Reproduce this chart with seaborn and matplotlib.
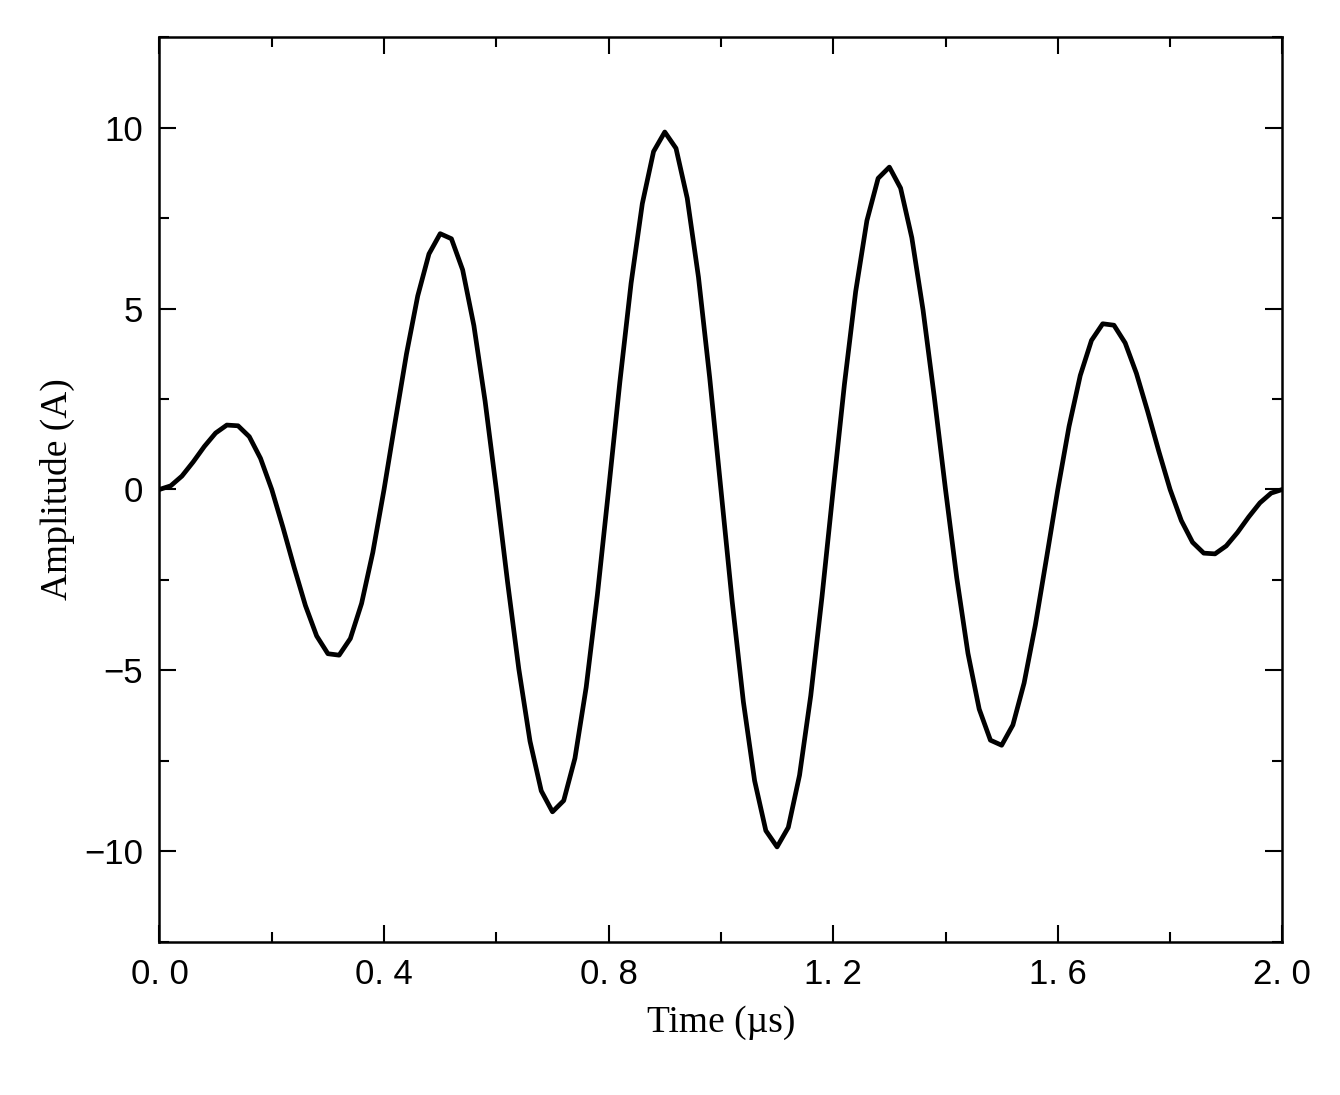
import numpy as np
import pandas as pd
import seaborn as sns
import matplotlib.pyplot as plt

# valores (paso de 0.02 us)
half = [0.00, 0.10, 0.37, 0.76, 1.19, 1.56, 1.78, 1.76, 1.46, 0.86,
        0.00, -1.05, -2.16, -3.21, -4.05, -4.54, -4.58, -4.12, -3.15, -1.74,
        0.00, 1.89, 3.75, 5.35, 6.51, 7.07, 6.93, 6.07, 4.53, 2.44,
        0.00, -2.56, -4.96, -6.96, -8.33, -8.91, -8.60, -7.43, -5.47, -2.91,
        0.00, 2.97, 5.70, 7.90, 9.34, 9.88, 9.43, 8.05, 5.87, 3.09]
second = [0.00, -3.09, -5.87, -8.05, -9.43, -9.88, -9.34, -7.90, -5.70, -2.97,
          0.00, 2.91, 5.47, 7.43, 8.60, 8.91, 8.33, 6.96, 4.96, 2.56,
          0.00, -2.44, -4.53, -6.07, -6.93, -7.07, -6.51, -5.35, -3.75, -1.89,
          0.00, 1.74, 3.15, 4.12, 4.58, 4.54, 4.05, 3.21, 2.16, 1.05,
          0.00, -0.86, -1.46, -1.76, -1.78, -1.56, -1.19, -0.76, -0.37, -0.10,
          0.00]
amplitude = half + second
time = np.round(np.linspace(0, 2, len(amplitude)), 2)

x_ticks = [0.0, 0.4, 0.8, 1.2, 1.6, 2.0]
x_labels = ["0. 0", "0. 4", "0. 8", "1. 2", "1. 6", "2. 0"]
y_ticks = [-10, -5, 0, 5, 10]
y_labels = ["\u221210", "\u22125", "0", "5", "10"]

df = pd.DataFrame({"time": time, "amplitude": amplitude})

sns.set_style("white")
fig = plt.figure(figsize=(13.4, 10.95), dpi=100)
ax = fig.add_axes([0.119, 0.140, 0.838, 0.826])
sns.lineplot(data=df, x="time", y="amplitude", color="black", linewidth=3.4,
             solid_joinstyle="round", ax=ax)

ax.set_xlim(0, 2)
ax.set_ylim(-12.5, 12.5)
ax.set_xticks(x_ticks)
ax.set_xticklabels(x_labels)
ax.set_yticks(y_ticks)
ax.set_yticklabels(y_labels)
ax.set_xticks(np.arange(0.2, 2.0, 0.4), minor=True)
ax.set_yticks(np.arange(-12.5, 12.6, 2.5), minor=True)
for lab in ax.get_xticklabels() + ax.get_yticklabels():
    lab.set_family("Liberation Sans")
    lab.set_fontsize(25)
    lab.set_color("black")
ax.tick_params(which="both", direction="in", top=True, right=True,
               bottom=True, left=True, width=1.5, color="black")
ax.tick_params(which="major", length=12, pad=12)
ax.tick_params(which="minor", length=7)
for s in ax.spines.values():
    s.set_linewidth(1.8)
    s.set_color("black")

ax.set_xlabel("Time (\u00b5s)", family="Liberation Serif", fontsize=27,
              labelpad=10, color="black")
ax.set_ylabel("Amplitude (A)", family="Liberation Serif", fontsize=27,
              labelpad=6, color="black")

plt.savefig("out.png", dpi=100)
